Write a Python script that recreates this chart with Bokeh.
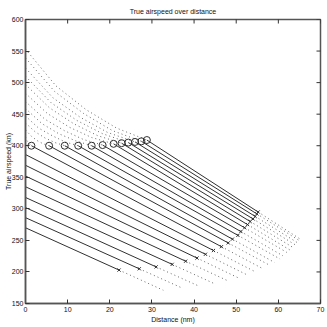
import math
from bokeh.plotting import figure
from bokeh.models import Range1d, FixedTicker
from bokeh.embed import file_html
from bokeh.resources import INLINE

title_text = "True airspeed over distance"
xlabel_text = "Distance (nm)"
ylabel_text = "True airspeed (kn)"
x_ticks = [0, 10, 20, 30, 40, 50, 60, 70]
y_ticks = [150, 200, 250, 300, 350, 400, 450, 500, 550, 600]

# lower series (solid from x = 0)
lower_start_v = [270, 286, 302, 318, 335, 352, 369, 386]

# circle markers (start of solid part) for the upper series
circle_x = [1.4, 5.6, 9.3, 12.5, 15.7, 18.3, 20.9, 22.8, 24.4, 26.0, 27.5, 28.8]
circle_v = [400, 400, 400, 400, 400, 401, 403, 404, 405, 406, 407, 409]

# cross markers (end of solid part), all 20 series from lowest to highest
cross_x = [22.2, 27.0, 31.0, 34.8, 38.0, 40.7, 42.7, 44.6, 46.5, 48.1,
           49.1, 50.4, 51.1, 52.0, 52.7, 53.3, 54.0, 54.5, 54.9, 55.2]
cross_v = [203, 205, 208, 212, 217, 222, 228, 234, 240, 246,
           252, 258, 264, 270, 275, 280, 284, 288, 292, 295]

# dotted tails after the cross markers
tail_end_x = [32.7, 37.0, 41.0, 44.8, 48.0, 50.7, 52.7, 54.6, 56.5, 58.1,
              59.1, 60.4, 61.1, 62.0, 62.7, 63.3, 64.0, 64.5, 64.9, 65.2]
tail_end_v = [171, 175, 178, 181.5, 186, 190, 195, 200, 204.5, 210,
              215, 220.5, 225.5, 231, 235, 239.5, 243, 246.5, 250, 252]

# dotted curves before the circles (upper series)
upper_x = [
    [0, 0.35, 0.7, 1.05, 1.4],
    [0, 1.4, 2.8, 4.2, 5.6],
    [0, 2.3, 4.7, 7.0, 9.3],
    [0, 3.1, 6.3, 9.4, 12.5],
    [0, 3.9, 7.9, 11.8, 15.7],
    [0, 4.6, 9.2, 13.7, 18.3],
    [0, 5.2, 10.5, 15.7, 20.9],
    [0, 5.7, 11.4, 17.1, 22.8],
    [0, 6.1, 12.2, 18.3, 24.4],
    [0, 6.5, 13.0, 19.5, 26.0],
    [0, 6.9, 13.8, 20.6, 27.5],
    [0, 7.2, 14.4, 21.6, 28.8],
]
upper_v = [
    [414, 408, 405, 402, 400],
    [425, 415, 408, 403, 400],
    [436, 422, 412, 405, 400],
    [447, 428, 416, 406, 400],
    [459, 435, 419, 408, 400],
    [470, 442, 424, 410, 401],
    [483, 451, 429, 413, 403],
    [497, 460, 435, 416, 404],
    [510, 468, 440, 419, 405],
    [523, 476, 445, 421, 406],
    [539, 486, 451, 424, 407],
    [553, 495, 457, 428, 409],
]

FONT = "Liberation Sans"
FS = "7px"
W, H = 327, 327
BL, BR, BT, BB = 25, 7, 19, 24

p = figure(width=W, height=H, x_range=Range1d(x_ticks[0], x_ticks[-1]),
           y_range=Range1d(y_ticks[0], y_ticks[-1]),
           output_backend="svg", toolbar_location=None,
           min_border_left=BL, min_border_right=BR, min_border_top=BT, min_border_bottom=BB,
           background_fill_color="white", border_fill_color="white",
           title=title_text, x_axis_label=xlabel_text, y_axis_label=ylabel_text)
p.grid.visible = False
p.outline_line_color = "#555555"
p.outline_line_width = 1.5

p.title.text_font = FONT
p.title.text_font_size = FS
p.title.text_font_style = "normal"
p.title.align = "center"
p.title.text_color = "#111111"
p.title.standoff = 10

for ax in [p.xaxis[0], p.yaxis[0]]:
    ax.major_tick_in = 4
    ax.major_tick_out = 0
    ax.minor_tick_in = 0
    ax.minor_tick_out = 0
    ax.axis_line_color = "#555555"
    ax.axis_line_width = 1.5
    ax.major_tick_line_color = "#333333"
    ax.major_label_text_font = FONT
    ax.major_label_text_font_size = FS
    ax.major_label_text_color = "#111111"
    ax.axis_label_text_font = FONT
    ax.axis_label_text_font_size = FS
    ax.axis_label_text_font_style = "normal"
    ax.axis_label_text_color = "#111111"
p.xaxis[0].ticker = FixedTicker(ticks=x_ticks)
p.yaxis[0].ticker = FixedTicker(ticks=y_ticks)
p.xaxis[0].major_label_standoff = 3
p.yaxis[0].major_label_standoff = 2
p.xaxis[0].axis_label_standoff = 1
p.yaxis[0].axis_label_standoff = -3

# inward ticks on the top and right edges of the box (half of each dash is clipped)
p.scatter(x=x_ticks, y=[y_ticks[-1]] * len(x_ticks), marker="dash", angle=math.pi / 2,
          size=8, line_color="#333333", line_width=1)
p.scatter(x=[x_ticks[-1]] * len(y_ticks), y=y_ticks, marker="dash", angle=0,
          size=8, line_color="#333333", line_width=1)

dot_color = "#6a6a6a"
# dotted upper curves
p.multi_line(xs=upper_x, ys=upper_v, line_color=dot_color, line_width=1, line_dash="1 3")

# dotted tails
tail_xs = [[cross_x[i], tail_end_x[i]] for i in range(len(cross_x))]
tail_ys = [[cross_v[i], tail_end_v[i]] for i in range(len(cross_x))]
p.multi_line(xs=tail_xs, ys=tail_ys, line_color=dot_color, line_width=1, line_dash="1 3")

# solid parts
nl = len(lower_start_v)
start_x = [0.0] * nl + circle_x
start_v = lower_start_v + circle_v
solid_xs = [[start_x[i], cross_x[i]] for i in range(len(cross_x))]
solid_ys = [[start_v[i], cross_v[i]] for i in range(len(cross_x))]
p.multi_line(xs=solid_xs, ys=solid_ys, line_color="#303030", line_width=1)

p.scatter(circle_x, circle_v, marker="circle", size=7, fill_color=None,
          line_color="#303030", line_width=1)
p.scatter(cross_x, cross_v, marker="x", size=4.5, line_color="#303030", line_width=1)

open("out.html", "w").write(file_html(p, INLINE))
